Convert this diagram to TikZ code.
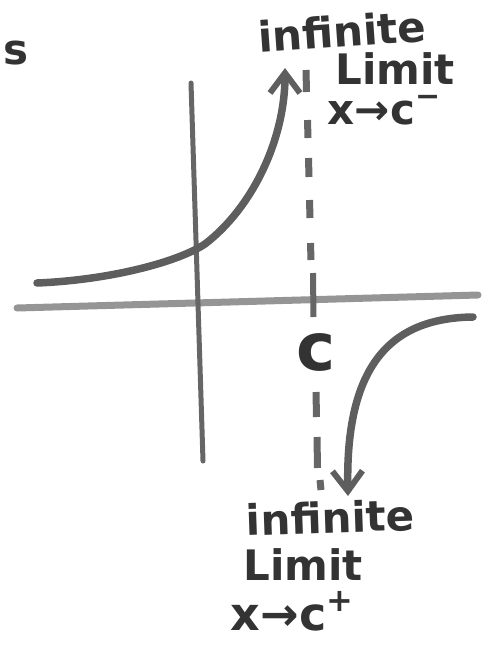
\documentclass[tikz,border=0pt]{standalone}
\usepackage{fontspec}
\setmainfont{DejaVu Sans}
\usetikzlibrary{arrows.meta}
\definecolor{ink}{HTML}{333333}
\definecolor{curve}{HTML}{5E5E5E}
\definecolor{haxis}{HTML}{959595}
\definecolor{vaxis}{HTML}{666666}
\begin{document}
\begin{tikzpicture}[x=1pt,y=-1pt,
  hand/.style={text=ink,inner sep=0pt,anchor=base,font=\fontsize{42}{44}\selectfont\bfseries},
  curvestroke/.style={draw=curve,line width=7.5pt,line cap=round},
  dashseg/.style={draw=vaxis,line width=7pt},
  barb/.style={-{Straight Barb[length=20pt,width=30pt,line width=6pt]}}
]
\useasboundingbox (0,0) rectangle (490,646);
% axes
\draw[draw=haxis,line width=7pt,line cap=round] (17,308) -- (478,295);
\draw[draw=vaxis,line width=5pt,line cap=round] (191,83) -- (203,461);
% dashed asymptote
\draw[dashseg] (306,70) -- (306.5,92);
\draw[dashseg] (307.5,120) -- (308,138);
\draw[dashseg] (308.5,158) -- (309,177);
\draw[dashseg] (309.5,200) -- (310,218);
\draw[dashseg] (310.5,243) -- (311,260);
\draw[dashseg,line width=6pt] (313,273) -- (313.5,317);
\draw[dashseg] (316,392) -- (316.5,417);
\draw[dashseg] (317,437) -- (317.5,468);
\draw[dashseg] (320,480) -- (321,490);
\node[hand,anchor=center,font=\fontsize{66}{68}\selectfont\bfseries] (c) at (316,352) {c};
% upper branch
\draw[curvestroke,barb] (37,283) .. controls (110,280) and (178,262) .. (205,244)
   .. controls (252,208) and (285,140) .. (285,68);
% lower branch
\draw[curvestroke,barb] (473,317) .. controls (395,318) and (345,360) .. (348,496);
% labels
\node[hand] (s) at (16,64) {s};
\node[hand,rotate=4] (inf1) at (343,47) {infinite};
\node[hand] (lim1) at (395,84) {Limit};
\node[hand] (xc1) at (384,124) {x→c\raisebox{0.42em}{\fontsize{30}{30}\selectfont −}};
\node[hand,rotate=2] (inf2) at (331,533) {infinite};
\node[hand] (lim2) at (303,580) {Limit};
\node[hand,font=\fontsize{46}{48}\selectfont\bfseries] (xc2) at (292,630) {x→c\raisebox{0.4em}{\fontsize{32}{32}\selectfont +}};
\end{tikzpicture}
\end{document}
